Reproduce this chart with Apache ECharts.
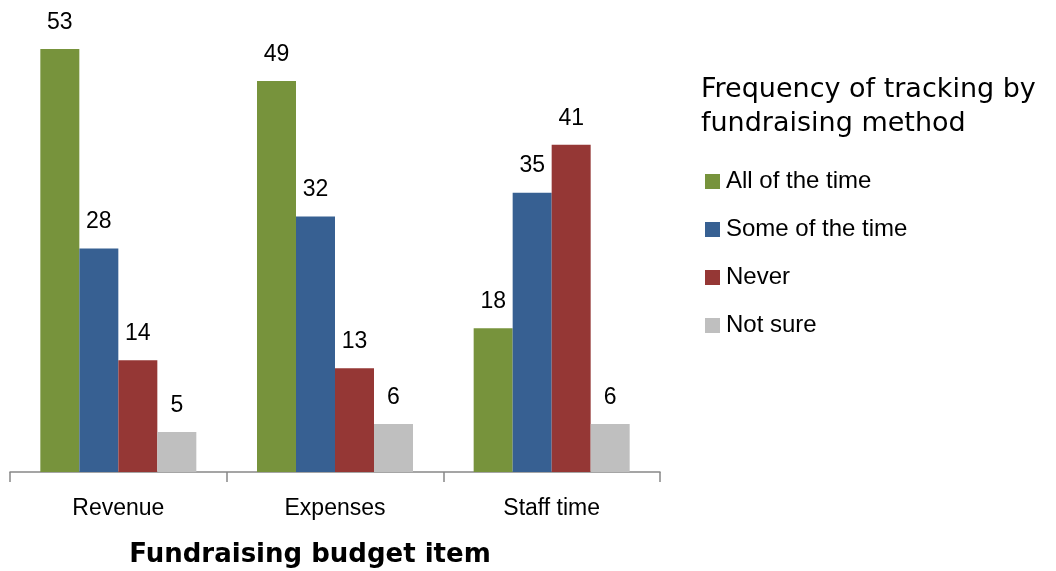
<!DOCTYPE html>
<html>
<head>
<meta charset="utf-8">
<script src="https://cdn.jsdelivr.net/npm/echarts@6/dist/echarts.min.js"></script>
<style>
  html, body { margin: 0; padding: 0; background: #fff; }
  #chart { width: 1056px; height: 571px; }
</style>
</head>
<body>
<div id="chart"></div>
<script>
const categories = ['Revenue', 'Expenses', 'Staff time'];
const seriesNames = ['All of the time', 'Some of the time', 'Never', 'Not sure'];
const allOfTime = [53, 49, 18];
const someOfTime = [28, 32, 35];
const never = [14, 13, 41];
const notSure = [5, 6, 6];
const colors = ['#77933C', '#376092', '#953735', '#BFBFBF'];

const labelFont = '"Liberation Sans", Arial, sans-serif';
const verdanaLike = '"DejaVu Sans", Verdana, sans-serif';

const chart = echarts.init(document.getElementById('chart'), null, { renderer: 'canvas' });

const values = [allOfTime, someOfTime, never, notSure];
const series = values.map((data, i) => ({
  name: seriesNames[i],
  type: 'bar',
  data: data,
  barWidth: 39,
  barGap: '0%',
  itemStyle: { color: colors[i] },
  label: {
    show: true,
    position: 'top',
    distance: 15,
    color: '#000',
    fontSize: 23,
    fontFamily: labelFont
  }
}));

chart.setOption({
  animation: false,
  title: {
    text: 'Frequency of tracking by\nfundraising method',
    left: 696,
    top: 68,
    textStyle: {
      fontFamily: verdanaLike,
      fontWeight: 'normal',
      fontSize: 27,
      lineHeight: 34,
      color: '#000'
    }
  },
  legend: {
    orient: 'vertical',
    left: 705,
    top: 169,
    padding: 0,
    itemWidth: 15,
    itemHeight: 15,
    itemGap: 23,
    icon: 'rect',
    data: seriesNames,
    textStyle: { fontSize: 24, lineHeight: 25, fontFamily: labelFont, color: '#000', padding: [0, 0, 0, 1] }
  },
  grid: { left: 10, right: 396, top: 33, bottom: 99, outerBoundsMode: 'none', containLabel: false },
  xAxis: {
    type: 'category',
    data: categories,
    name: 'Fundraising budget item',
    nameLocation: 'middle',
    nameGap: 70,
    nameTextStyle: {
      fontFamily: verdanaLike,
      fontWeight: 'bold',
      fontSize: 26,
      color: '#000',
      padding: [0, 50, 0, 0]
    },
    axisLine: { lineStyle: { color: '#888', width: 1.5 } },
    axisTick: { show: true, length: 10, lineStyle: { color: '#888', width: 1.5 } },
    axisLabel: { margin: 25, fontSize: 23, fontFamily: labelFont, color: '#000' }
  },
  yAxis: {
    type: 'value',
    min: 0,
    max: 55,
    show: false,
    splitLine: { show: false }
  },
  series: series
});
</script>
</body>
</html>
